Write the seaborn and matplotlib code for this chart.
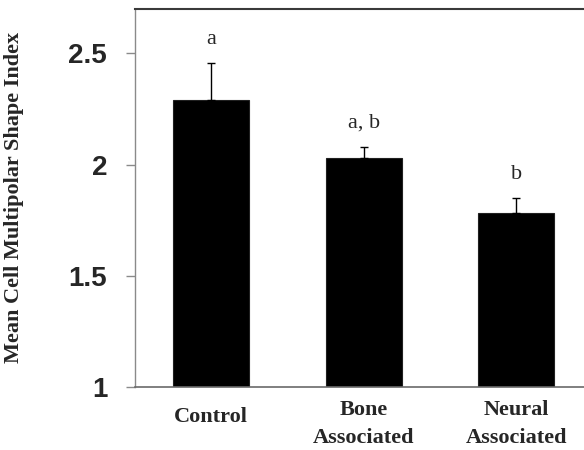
import matplotlib
matplotlib.use("Agg")
import matplotlib.pyplot as plt
import seaborn as sns
import pandas as pd

# Group means, standard errors and significance letters
groups = ["Control", "Bone\nAssociated", "Neural\nAssociated"]
mean_index = [2.29, 2.03, 1.78]
sem_index = [0.165, 0.05, 0.07]
sig_letters = ["a", "a, b", "b"]

df = pd.DataFrame({"group": groups, "index": mean_index})

sns.set_style("ticks")
plt.rcParams["font.family"] = ["Liberation Serif", "DejaVu Serif"]

fig = plt.figure(figsize=(5.84, 4.5), dpi=100)
ax = fig.add_axes([0.2312, 0.1407, 0.7834, 0.8393])

sns.barplot(data=df, x="group", y="index", color="black", width=0.5,
            edgecolor="#202020", linewidth=0.8, saturation=1, errorbar=None, ax=ax)

xpos = list(range(len(groups)))
ax.errorbar(xpos, mean_index, yerr=[[0] * len(sem_index), sem_index],
            fmt="none", ecolor="black", elinewidth=1.0, capsize=2.6, capthick=1.0)

for x, m, e, lab in zip(xpos, mean_index, sem_index, sig_letters):
    ax.annotate(lab, xy=(x, m + e), xytext=(0, 17), textcoords="offset points",
                ha="center", va="center", fontsize=16,
                fontfamily=["Liberation Serif", "DejaVu Serif"])

ax.set_xlim(-0.5, 2.5)
ax.set_ylim(1, 2.7)
ax.set_yticks([1, 1.5, 2, 2.5])
ax.set_yticklabels(["1", "1.5", "2", "2.5"])

for lbl in ax.get_yticklabels():
    lbl.set_fontfamily(["Liberation Sans", "DejaVu Sans"])
    lbl.set_fontweight("bold")
    lbl.set_fontsize(20)
for lbl in ax.get_xticklabels():
    lbl.set_fontfamily(["Liberation Serif", "DejaVu Serif"])
    lbl.set_fontweight("bold")
    lbl.set_fontsize(16)
    lbl.set_linespacing(1.55)

ax.tick_params(axis="y", length=6.5, width=1.0, color="#8a8a8a", pad=13.5)
ax.tick_params(axis="x", length=0, pad=9.5)
# the single-line label sits a little lower than the wrapped ones
for tick, name in zip(ax.xaxis.get_major_ticks(), groups):
    if "\n" not in name:
        tick.set_pad(14.5)

ax.set_xlabel("")
ax.set_ylabel("Mean Cell Multipolar Shape Index", fontsize=16, fontweight="bold",
              fontfamily=["Liberation Serif", "DejaVu Serif"])
ax.yaxis.set_label_coords(-0.2426, 0.5)

ax.spines["top"].set_color("#3a3a3a")
ax.spines["top"].set_linewidth(1.5)
ax.spines["left"].set_color("#8a8a8a")
ax.spines["left"].set_linewidth(1.0)
ax.spines["bottom"].set_color("#6a6a6a")
ax.spines["bottom"].set_linewidth(1.2)
ax.spines["right"].set_visible(False)

fig.savefig("out.png", dpi=100)
